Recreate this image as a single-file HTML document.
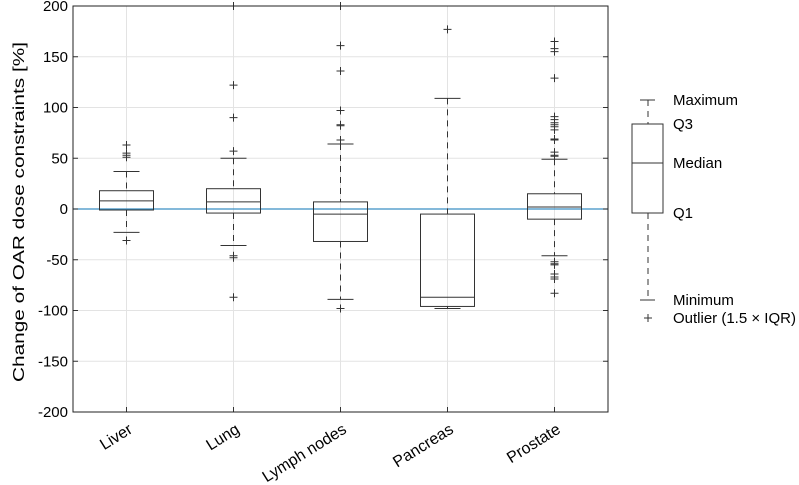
<!DOCTYPE html>
<html><head><meta charset="utf-8"><style>
body{margin:0;background:#fff}
svg{display:block;font-family:"Liberation Sans",Arial,sans-serif}
</style></head><body>
<svg id="chart" width="799" height="485" viewBox="0 0 799 485">
<g id="grid"></g>
<g id="marks"></g>
<g id="axes"></g>
<text transform="translate(24,212) rotate(-90)" text-anchor="middle" font-size="16" textLength="340" lengthAdjust="spacingAndGlyphs" fill="#000">Change of OAR dose constraints [%]</text>
<g stroke="#333" fill="none" stroke-width="1">
<line x1="640" y1="100" x2="655" y2="100"/><line x1="648" y1="100" x2="648" y2="124" stroke-dasharray="6,5"/>
<rect x="632" y="124" width="31" height="89"/><line x1="632" y1="163" x2="663" y2="163"/>
<line x1="648" y1="213" x2="648" y2="300" stroke-dasharray="6,5"/><line x1="640" y1="300" x2="655" y2="300"/>
<line x1="644" y1="318" x2="652" y2="318"/><line x1="648" y1="314" x2="648" y2="322"/>
</g>
<g font-size="15" fill="#000">
<text x="673" y="105">Maximum</text><text x="673" y="129">Q3</text><text x="673" y="168">Median</text>
<text x="673" y="218">Q1</text><text x="673" y="305">Minimum</text><text x="673" y="323">Outlier (1.5 × IQR)</text>
</g>
</svg>
<script>
const categories=["Liver","Lung","Lymph nodes","Pancreas","Prostate"];
const whiskerHigh=[37,50,64,109,49];
const q3=[18,20,7,-5,15];
const medians=[8,7,-5,-87,2];
const q1=[-1,-4,-32,-96,-10];
const whiskerLow=[-23,-36,-89,-98,-46];
const outliers=[
 [63,55,53,51,-31],
 [200,122,90,57,-46,-48,-87],
 [200,161,136,97,83,82,68,-98],
 [177],
 [165,158,155,129,91,88,85,83,81,78,69,68,56,53,52,-52,-54,-55,-64,-67,-69,-83]
];
const yTicks=[-200,-150,-100,-50,0,50,100,150,200];
const L=73,R=608,T=6,B=412,ymin=-200,ymax=200;
const sx=i=>L+(R-L)/categories.length*(i+0.5);
const sy=v=>B-(v-ymin)/(ymax-ymin)*(B-T);
const NS="http://www.w3.org/2000/svg";
function mk(p,tag,a){const e=document.createElementNS(NS,tag);for(const k in a)e.setAttribute(k,a[k]);p.appendChild(e);return e;}
const grid=document.getElementById('grid'),marks=document.getElementById('marks'),axes=document.getElementById('axes');
yTicks.forEach(t=>{
 const g=mk(grid,'line',{x1:L,x2:R,y1:sy(t),y2:sy(t),stroke:'#e3e3e3'});
 
 
 const tx=mk(axes,'text',{x:L-5,y:sy(t)+5,'text-anchor':'end','font-size':'15',fill:'#000'});
 tx.textContent=t;
 
 
 mk(axes,'line',{x1:L,x2:L+5,y1:sy(t),y2:sy(t),stroke:'#333'});
 mk(axes,'line',{x1:R,x2:R-5,y1:sy(t),y2:sy(t),stroke:'#333'});
});
categories.forEach((c,i)=>{
 const x=sx(i);
 const g=mk(grid,'line',{x1:x,x2:x,y1:T,y2:B,stroke:'#e3e3e3'});
 
 
 mk(axes,'line',{x1:x,x2:x,y1:B,y2:B-5,stroke:'#333'});
 const tx=mk(axes,'text',{transform:`translate(${x+7},${B+20}) rotate(-32)`,'text-anchor':'end','font-size':'16',fill:'#000'});
 tx.textContent=c;
 
 
});
mk(marks,'line',{x1:L,x2:R,y1:sy(0),y2:sy(0),stroke:'#3a8fc4','stroke-width':1.2});
categories.forEach((c,i)=>{
 const x=sx(i),hw=27,cw=13;
 const g=mk(marks,'g',{stroke:'#333',fill:'none'});
 
 
 mk(g,'line',{x1:x,x2:x,y1:sy(whiskerHigh[i]),y2:sy(q3[i]),'stroke-dasharray':'6,5'});
 mk(g,'line',{x1:x,x2:x,y1:sy(q1[i]),y2:sy(whiskerLow[i]),'stroke-dasharray':'6,5'});
 mk(g,'line',{x1:x-cw,x2:x+cw,y1:sy(whiskerHigh[i]),y2:sy(whiskerHigh[i])});
 mk(g,'line',{x1:x-cw,x2:x+cw,y1:sy(whiskerLow[i]),y2:sy(whiskerLow[i])});
 mk(g,'rect',{x:x-hw,y:sy(q3[i]),width:2*hw,height:sy(q1[i])-sy(q3[i])});
 mk(g,'line',{x1:x-hw,x2:x+hw,y1:sy(medians[i]),y2:sy(medians[i])});
 outliers[i].forEach(v=>{
  const o=mk(g,'path',{d:`M${x-4},${sy(v)}H${x+4}M${x},${sy(v)-4}V${sy(v)+4}`});
  
  
 });
});
mk(axes,'rect',{x:L,y:T,width:R-L,height:B-T,fill:'none',stroke:'#222'});
</script>
</body></html>
